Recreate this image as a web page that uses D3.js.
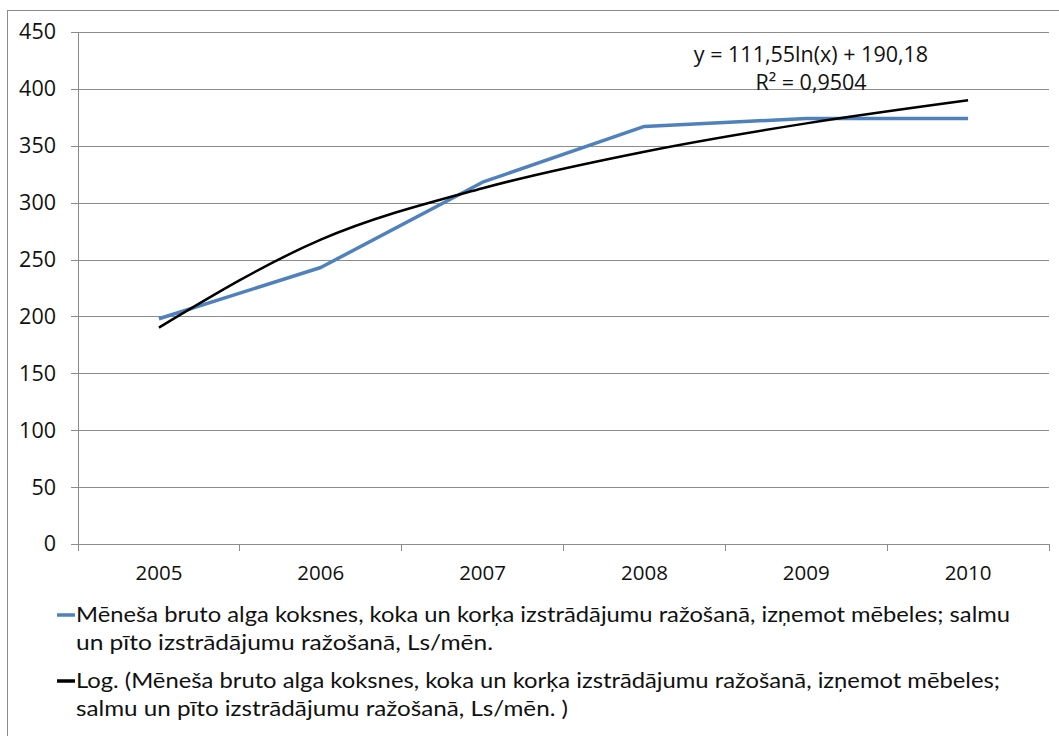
<!DOCTYPE html>
<html>
<head>
<meta charset="utf-8">
<script src="https://cdn.jsdelivr.net/npm/d3@7"></script>
<style>
  html, body { margin: 0; padding: 0; background: #fff; }
  svg { display: block; }
</style>
</head>
<body>
<div id="chart"></div>
<script>
const years = ["2005", "2006", "2007", "2008", "2009", "2010"];
const wage = [198, 243, 318, 367, 374, 374];
const trend = [190.2, 267.5, 312.7, 344.8, 369.7, 390.0];
const yTicks = [0, 50, 100, 150, 200, 250, 300, 350, 400, 450];
const equationLines = ["y = 111,55ln(x) + 190,18", "R² = 0,9504"];
const legendWage = [
  "Mēneša bruto alga koksnes, koka un korķa izstrādājumu ražošanā, izņemot mēbeles; salmu",
  "un pīto izstrādājumu ražošanā, Ls/mēn."
];
const legendTrend = [
  "Log. (Mēneša bruto alga koksnes, koka un korķa izstrādājumu ražošanā, izņemot mēbeles;",
  "salmu un pīto izstrādājumu ražošanā, Ls/mēn. )"
];

const W = 1059, H = 736;
const margin = { top: 32, right: 10, bottom: 192, left: 78 };
const width = W - margin.left - margin.right;
const height = H - margin.top - margin.bottom;
const gridColor = "#8c8c8c";
const font = "'Open Sans', sans-serif";

const svg = d3.select("#chart").append("svg")
  .attr("width", W).attr("height", H)
  .attr("viewBox", [0, 0, W, H]);

// outer chart border (runs past the right/bottom edge like the picture)
svg.append("rect")
  .attr("x", 7.5).attr("y", 10.5)
  .attr("width", 1100).attr("height", 800)
  .attr("fill", "none").attr("stroke", gridColor).attr("stroke-width", 1);

const g = svg.append("g").attr("transform", `translate(${margin.left},${margin.top})`);

const x = d3.scaleBand().domain(years).range([0, width]);
const y = d3.scaleLinear().domain([0, 450]).range([height, 0]);

// Y axis + gridlines
g.append("g")
  .call(d3.axisLeft(y).tickValues(yTicks).tickSize(-width).tickPadding(22))
  .call((a) => a.select(".domain").remove())
  .call((a) => a.selectAll(".tick line")
    .attr("x1", -7).attr("stroke", gridColor).attr("shape-rendering", "crispEdges"))
  .call((a) => a.selectAll("text")
    .attr("fill", "#111").style("font-family", font).style("font-size", "21.5px"));

// Y axis line
g.append("line")
  .attr("x1", 0).attr("x2", 0).attr("y1", 0).attr("y2", height)
  .attr("stroke", gridColor).attr("shape-rendering", "crispEdges");

// X axis
const xa = g.append("g").attr("transform", `translate(0,${height})`);
xa.append("line")
  .attr("x1", 0).attr("x2", width)
  .attr("stroke", gridColor).attr("shape-rendering", "crispEdges");
const boundaries = years.map((d) => x(d)).concat([width]);
xa.selectAll(".xtick").data(boundaries).join("line")
  .attr("x1", (d) => d).attr("x2", (d) => d)
  .attr("y1", 0).attr("y2", 7)
  .attr("stroke", gridColor).attr("shape-rendering", "crispEdges");
xa.selectAll(".xlabel").data(years).join("text")
  .attr("x", (d) => x(d) + x.bandwidth() / 2)
  .attr("y", 36)
  .attr("text-anchor", "middle")
  .attr("fill", "#111")
  .style("font-family", font).style("font-size", "20.5px")
  .text((d) => d);

const cx = (d, i) => x(years[i]) + x.bandwidth() / 2;

// wage line
g.append("path")
  .datum(wage)
  .attr("fill", "none")
  .attr("stroke", "#4f81bd")
  .attr("stroke-width", 3.5)
  .attr("stroke-linejoin", "round")
  .attr("d", d3.line().x(cx).y((d) => y(d)));

// log trend line
g.append("path")
  .datum(trend)
  .attr("fill", "none")
  .attr("stroke", "#000")
  .attr("stroke-width", 2.5)
  .attr("d", d3.line().x(cx).y((d) => y(d)).curve(d3.curveMonotoneX));

// trend equation
svg.selectAll(".eq").data(equationLines).join("text")
  .attr("x", 811)
  .attr("y", (d, i) => 62 + i * 28)
  .attr("text-anchor", "middle")
  .attr("fill", "#111")
  .style("font-family", font).style("font-size", "21.5px")
  .text((d) => d);

// legend
function legendItem(lines, color, top, widths) {
  svg.append("line")
    .attr("x1", 57).attr("x2", 75)
    .attr("y1", top - 7).attr("y2", top - 7)
    .attr("stroke", color).attr("stroke-width", 3.5);
  svg.selectAll(null).data(lines).join("text")
    .attr("x", 76)
    .attr("y", (d, i) => top + i * 28)
    .attr("fill", "#111")
    .attr("textLength", (d, i) => widths[i])
    .attr("lengthAdjust", "spacingAndGlyphs")
    .style("font-family", "Lato, sans-serif").style("font-size", "21px")
    .text((d) => d);
}
legendItem(legendWage, "#4f81bd", 622, [934, 417]);
legendItem(legendTrend, "#000", 688, [924, 492]);
</script>
</body>
</html>
